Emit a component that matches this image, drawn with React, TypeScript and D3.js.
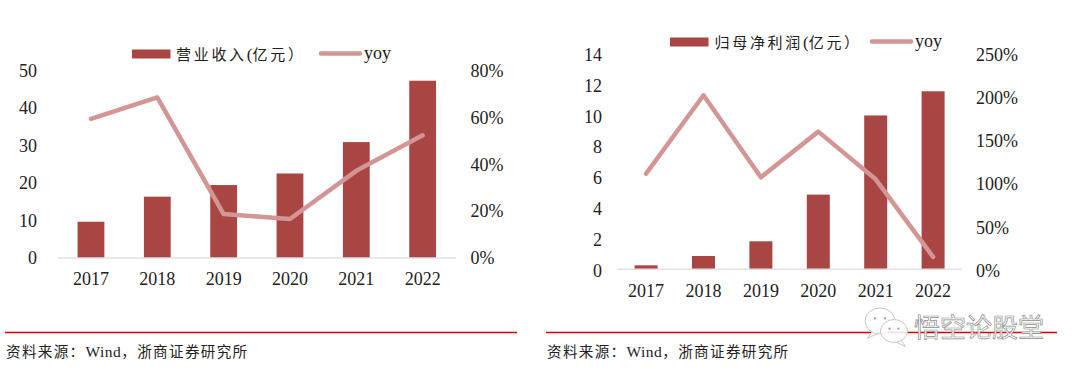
import React from "react";
import * as d3 from "d3";

const years = ["2017", "2018", "2019", "2020", "2021", "2022"];
const revenue = [9.7, 16.4, 19.5, 22.6, 31, 47.4];
const revenueYoy = [59.5, 68.7, 18.8, 16.7, 37.3, 52.5];
const profit = [0.26, 0.87, 1.83, 4.88, 10.05, 11.63];
const profitYoy = [111.6, 203, 107.3, 160.6, 105, 14.4];
const revenueTicks = [0, 10, 20, 30, 40, 50];
const revenuePctTicks = [0, 20, 40, 60, 80];
const profitTicks = [0, 2, 4, 6, 8, 10, 12, 14];
const profitPctTicks = [0, 50, 100, 150, 200, 250];

const BAR = "#A94644";
const LINE = "#D39694";
const INK = "#222";
const SERIF = "'Liberation Serif', serif";
const CJK = "'Noto Sans CJK SC', sans-serif";

type PanelProps = {
  values: number[]; yoy: number[]; ticks: number[]; pctTicks: number[];
  x0: number; x1: number; y0: number; yTop: number; barW: number; labelDrop: number;
  leftX: number; rightX: number; catY: number;
  titleA: string; titleB: string; swX: number; swY: number; lineX: number; titleX: number; yoyX: number;
};

function Panel(p: PanelProps) {
  const x = d3.scaleBand<string>().domain(years).range([p.x0, p.x1]);
  const y = d3.scaleLinear().domain([0, d3.max(p.ticks) as number]).range([p.y0, p.yTop]);
  const y2 = d3.scaleLinear().domain([0, d3.max(p.pctTicks) as number]).range([p.y0, p.yTop]);
  const labelY = d3.scaleLinear().domain([p.y0, p.yTop]).range([p.y0 + p.labelDrop, p.yTop]);
  const cx = (d: string) => (x(d) as number) + x.bandwidth() / 2;
  const line = d3.line<number>().x((_, i) => cx(years[i])).y((d) => y2(d));
  return (
    <g>
      {years.map((d, i) => (
        <rect key={d} x={cx(d) - p.barW / 2} y={y(p.values[i])} width={p.barW} height={p.y0 - y(p.values[i])} fill={BAR} />
      ))}
      <line x1={p.x0} x2={p.x1} y1={p.y0} y2={p.y0} stroke="#E2E2E2" strokeWidth={1.5} />
      <path d={line(p.yoy) as string} fill="none" stroke={LINE} strokeWidth={4.5} strokeLinejoin="round" strokeLinecap="round" />
      <g fontFamily={SERIF} fontSize={18} fill={INK}>
        {p.ticks.map((t) => (
          <text key={t} x={p.leftX} y={labelY(y(t))} textAnchor="end" dominantBaseline="central">{t}</text>
        ))}
        {p.pctTicks.map((t) => (
          <text key={t} x={p.rightX} y={labelY(y2(t))} dominantBaseline="central">{t}%</text>
        ))}
        {years.map((d) => (
          <text key={d} x={cx(d)} y={p.catY} textAnchor="middle" dominantBaseline="central">{d}</text>
        ))}
      </g>
      <rect x={p.swX} y={p.swY} width={38.5} height={9} fill={BAR} />
      <text x={p.titleX} y={p.swY + 4} dominantBaseline="central" fontFamily={CJK} fontSize={15} letterSpacing={2.7} fill={INK}>
        {p.titleA}<tspan fontFamily={SERIF} fontSize={17} letterSpacing={0}>(</tspan>{p.titleB}
      </text>
      <line x1={p.lineX} x2={p.lineX + 39} y1={p.swY + 4} y2={p.swY + 4} stroke={LINE} strokeWidth={4.5} strokeLinecap="round" />
      <text x={p.yoyX} y={p.swY + 3} dominantBaseline="central" fontFamily={SERIF} fontSize={18} fill={INK}>yoy</text>
    </g>
  );
}

function Source({ x }: { x: number }) {
  return (
    <text x={x} y={350.5} dominantBaseline="central" fontFamily={CJK} fontSize={14.6} letterSpacing={1.3} fill={INK}>
      资料来源：<tspan fontFamily={SERIF} fontSize={15.5} letterSpacing={0.5}>Wind</tspan>，浙商证券研究所
    </text>
  );
}

function Bubble({ cx, cy, rx, ry, tail }: { cx: number; cy: number; rx: number; ry: number; tail: number }) {
  return (
    <g>
      <path d={`M${cx + tail * rx * 0.45} ${cy + ry * 0.7} L${cx + tail * rx * 0.85} ${cy + ry * 1.35} L${cx + tail * rx * 0.05} ${cy + ry * 0.9} Z`} fill="#fff" stroke="#C8C8C8" strokeWidth={1} />
      <ellipse cx={cx} cy={cy} rx={rx} ry={ry} fill="#fff" fillOpacity={0.85} stroke="#C8C8C8" strokeWidth={1} />
      <circle cx={cx - rx * 0.33} cy={cy - ry * 0.2} r={1.1} fill="#999" />
      <circle cx={cx + rx * 0.33} cy={cy - ry * 0.2} r={1.1} fill="#999" />
    </g>
  );
}

export default function App() {
  return (
    <svg width={1080} height={373} style={{ position: "absolute", left: 0, top: 0, background: "#fff" }}>
      <Panel values={revenue} yoy={revenueYoy} ticks={revenueTicks} pctTicks={revenuePctTicks}
        x0={57.8} x1={455.8} y0={258} yTop={71} barW={26.8} labelDrop={0} leftX={37} rightX={470.5} catY={279}
        titleA="营业收入" titleB="亿元）" swX={132} swY={49.5} titleX={176} lineX={321} yoyX={364} />
      <Panel values={profit} yoy={profitYoy} ticks={profitTicks} pctTicks={profitPctTicks}
        x0={617.4} x1={961.8} y0={269.3} yTop={55} barW={23} labelDrop={1.5} leftX={602} rightX={976} catY={291}
        titleA="归母净利润" titleB="亿元）" swX={670} swY={37.5} titleX={714.5} lineX={872} yoyX={915} />
      <line x1={5} x2={517} y1={332.5} y2={332.5} stroke="#D40000" strokeWidth={1.5} />
      <line x1={546} x2={1057} y1={332.5} y2={332.5} stroke="#D40000" strokeWidth={1.5} />
      <Source x={6} />
      <Source x={547} />
      <g>
        <Bubble cx={880} cy={321} rx={15} ry={13} tail={-1} />
        <Bubble cx={894} cy={331} rx={13.5} ry={11.5} tail={1} />
        <text x={914} y={325.5} dominantBaseline="central" fontFamily={CJK} fontSize={26} fill="#fff" stroke="#8E8E8E" strokeWidth={0.7}>悟空论股堂</text>
      </g>
    </svg>
  );
}
